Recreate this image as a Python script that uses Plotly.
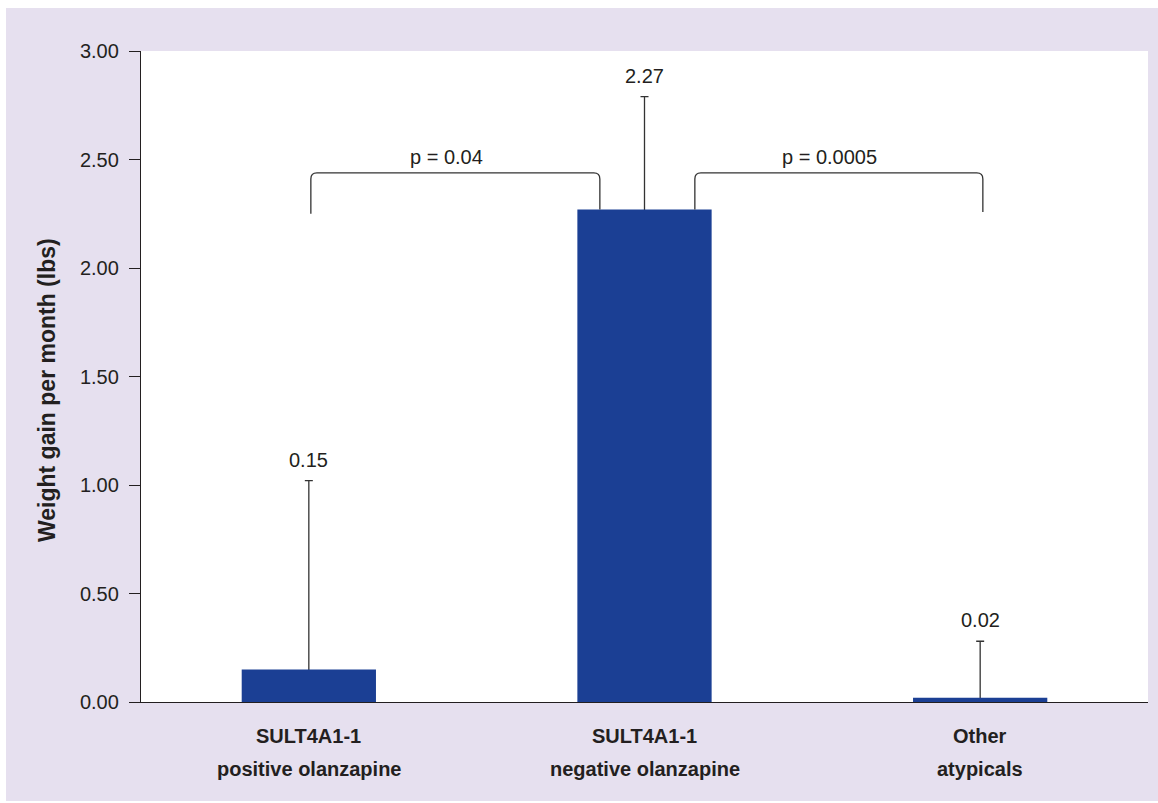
import plotly.graph_objects as go

# Data
categories = ["SULT4A1-1\npositive olanzapine", "SULT4A1-1\nnegative olanzapine", "Other\natypicals"]
weight_gain = [0.15, 2.27, 0.02]
error_plus = [0.87, 0.52, 0.26]
value_labels = ["0.15", "2.27", "0.02"]
y_ticks = [0.0, 0.5, 1.0, 1.5, 2.0, 2.5, 3.0]
y_tick_labels = ["0.00", "0.50", "1.00", "1.50", "2.00", "2.50", "3.00"]
comparisons = [(0, 1, "p = 0.04"), (1, 2, "p = 0.0005")]

# Styling
BAR_COLOR = "#1b3f94"
PANEL = "#e6e0ef"
INK = "#231f20"
LINE = "#333333"
FONT = "Liberation Sans, Arial, sans-serif"

W, H = 1158, 803
M_L, M_R, M_T, M_B = 141, 10, 51, 101
PW, PH = W - M_L - M_R, H - M_T - M_B

x_pos = list(range(len(categories)))

fig = go.Figure()
# upper whiskers (drawn first; their lower caps sit hidden inside the bars)
fig.add_trace(go.Bar(
    x=x_pos, y=weight_gain, width=0.4,
    marker=dict(color="rgba(0,0,0,0)", line=dict(width=0)),
    error_y=dict(type="data", array=error_plus, arrayminus=[0.012] * 3, symmetric=False,
                 color=LINE, thickness=1.3, width=4),
    hoverinfo="skip", showlegend=False,
))
# bars
fig.add_trace(go.Bar(
    x=x_pos, y=weight_gain, width=0.4,
    marker=dict(color=BAR_COLOR, line=dict(width=0)),
    hoverinfo="skip", showlegend=False,
))

annotations = []
# value labels above the error whiskers
for x, v, e, lab in zip(x_pos, weight_gain, error_plus, value_labels):
    annotations.append(dict(x=x, y=v + e, xref="x", yref="y", text=lab, showarrow=False,
                            yanchor="bottom", yshift=8, font=dict(size=20, color=INK, family=FONT)))

# category labels (two lines each)
for x, cat in zip(x_pos, categories):
    for k, line in enumerate(cat.split("\n")):
        annotations.append(dict(x=x, y=0, xref="x", yref="paper", text=f"<b>{line}</b>",
                                showarrow=False, yanchor="middle", yshift=-34 - 33 * k,
                                font=dict(size=20, color=INK, family=FONT)))

# y-axis title
annotations.append(dict(x=(47 - M_L) / PW, y=(H - M_B - 390) / PH, xref="paper", yref="paper",
                        text="<b>Weight gain per month (lbs)</b>", textangle=-90, showarrow=False,
                        xanchor="center", yanchor="middle",
                        font=dict(size=23, color=INK, family=FONT)))

# significance brackets
shapes = []
top = 2.438
base = 2.25
rx, ry = 0.018, 0.028
for a, b, ptxt in comparisons:
    tall = a if weight_gain[a] > weight_gain[b] else b
    if tall == b:
        x0, x1 = a + 0.006, b - 0.133
        y0, y1 = base, weight_gain[b]
    else:
        x0, x1 = a + 0.15, b + 0.008
        y0, y1 = weight_gain[a], base + 0.008
    path = (f"M {x0},{y0} L {x0},{top - ry} Q {x0},{top} {x0 + rx},{top} "
            f"L {x1 - rx},{top} Q {x1},{top} {x1},{top - ry} L {x1},{y1}")
    shapes.append(dict(type="path", path=path, xref="x", yref="y",
                       line=dict(color=LINE, width=1.3)))
    annotations.append(dict(x=(x0 + x1) / 2 - 0.027, y=top, xref="x", yref="y", text=ptxt,
                            showarrow=False, yanchor="bottom", yshift=3,
                            font=dict(size=20, color=INK, family=FONT)))

# white page margins around the tinted panel
for x0p, x1p, y0p, y1p in [(0, W, 0, 8), (0, 6, 0, H), (0, W, 801, H)]:
    shapes.append(dict(type="rect", xref="paper", yref="paper", layer="below",
                       x0=(x0p - M_L) / PW, x1=(x1p - M_L) / PW,
                       y0=(H - M_B - y1p) / PH, y1=(H - M_B - y0p) / PH,
                       fillcolor="white", line=dict(width=0)))

fig.update_layout(
    width=W, height=H,
    margin=dict(l=M_L, r=M_R, t=M_T, b=M_B),
    paper_bgcolor=PANEL, plot_bgcolor="white",
    font=dict(family=FONT, color=INK),
    barmode="overlay",
    xaxis=dict(range=[-0.5, 2.5], showticklabels=False, ticks="", showgrid=False,
               zeroline=False, showline=True, linecolor=INK, linewidth=1.3, fixedrange=True),
    yaxis=dict(range=[0, 3], tickvals=y_ticks, ticktext=y_tick_labels, ticks="outside",
               ticklen=11, tickwidth=1.3, tickcolor=INK, showgrid=False, zeroline=False,
               showline=True, linecolor=INK, linewidth=1.3,
               tickfont=dict(size=20, color=INK, family=FONT), ticklabelstandoff=6),
    annotations=annotations, shapes=shapes,
)

fig.write_html("out.html")
